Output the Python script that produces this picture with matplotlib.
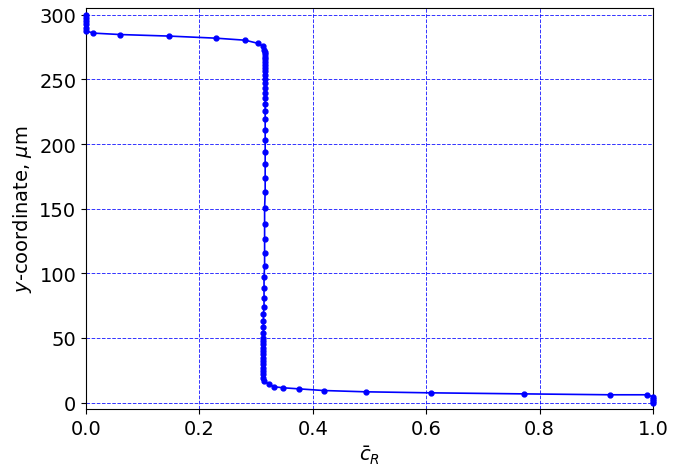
import matplotlib
matplotlib.use('Agg')
import matplotlib.pyplot as plt

# Profile of c_R across the layer
# top plateau at c_R = 0
top_c = [0.0, 0.0, 0.0, 0.0, 0.0, 0.0]
top_y = [300.0, 297.5, 295.0, 292.5, 290.0, 287.5]

# upper bend
bend_c = [0.013, 0.060, 0.147, 0.229, 0.281, 0.304, 0.312]
bend_y = [285.8, 284.7, 283.5, 281.9, 280.3, 277.8, 275.5]

# nearly vertical part around c_R ~ 0.315
mid_c = [0.314, 0.315, 0.315, 0.316, 0.316, 0.316, 0.316, 0.316, 0.316, 0.316,
         0.316, 0.316, 0.316, 0.316, 0.316, 0.316, 0.316, 0.316, 0.316, 0.316,
         0.316, 0.316, 0.316, 0.316, 0.315, 0.315, 0.315, 0.315, 0.315, 0.314,
         0.314, 0.314, 0.314, 0.313, 0.313, 0.313, 0.313, 0.313, 0.313, 0.313,
         0.313, 0.313, 0.313, 0.313, 0.313, 0.313, 0.313, 0.313, 0.313, 0.313, 0.314]
mid_y = [273.1, 271.3, 269.3, 267.2, 265.4, 263.3, 261.0, 258.9, 256.3, 253.7,
         250.6, 247.3, 243.4, 239.5, 235.7, 231.0, 225.8, 219.6, 211.1, 202.9,
         193.6, 184.5, 173.6, 162.8, 150.2, 137.8, 126.4, 115.5, 106.0, 96.9,
         88.9, 81.2, 74.2, 68.5, 63.3, 58.1, 53.5, 50.1, 47.5, 45.0,
         42.4, 39.8, 37.2, 34.6, 32.0, 29.5, 26.9, 24.3, 21.7, 19.1, 16.5]

# lower tail going out to c_R = 1
low_c = [0.323, 0.332, 0.348, 0.375, 0.419, 0.493, 0.609, 0.772, 0.925,
         0.989, 1.0, 1.0, 1.0, 1.0]
low_y = [14.2, 12.2, 11.4, 10.6, 9.3, 8.3, 7.5, 6.7, 6.0,
         6.0, 4.5, 3.0, 1.5, 0.0]

c_r = top_c + bend_c + mid_c + low_c
y_um = top_y + bend_y + mid_y + low_y

fig = plt.figure(figsize=(6.77, 4.77), dpi=100)
ax = fig.add_axes([86/677, 1 - 410/477, (653 - 86)/677, (410 - 9.3)/477])

ax.plot(c_r, y_um, 'o-', color='blue', lw=1.2, ms=3.5, clip_on=False, zorder=3)

ax.set_xlim(0, 1)
ax.set_ylim(-5, 305)
ax.set_xticks([0.0, 0.2, 0.4, 0.6, 0.8, 1.0])
ax.set_yticks([0, 50, 100, 150, 200, 250, 300])
ax.grid(True, color='blue', ls='--', lw=0.7, alpha=0.8)
ax.tick_params(labelsize=14)
ax.set_xlabel(r'$\bar{c}_R$', fontsize=14)
ax.set_ylabel(r'$y$-coordinate, $\mu$m', fontsize=14)

plt.savefig('out.png', dpi=100)
